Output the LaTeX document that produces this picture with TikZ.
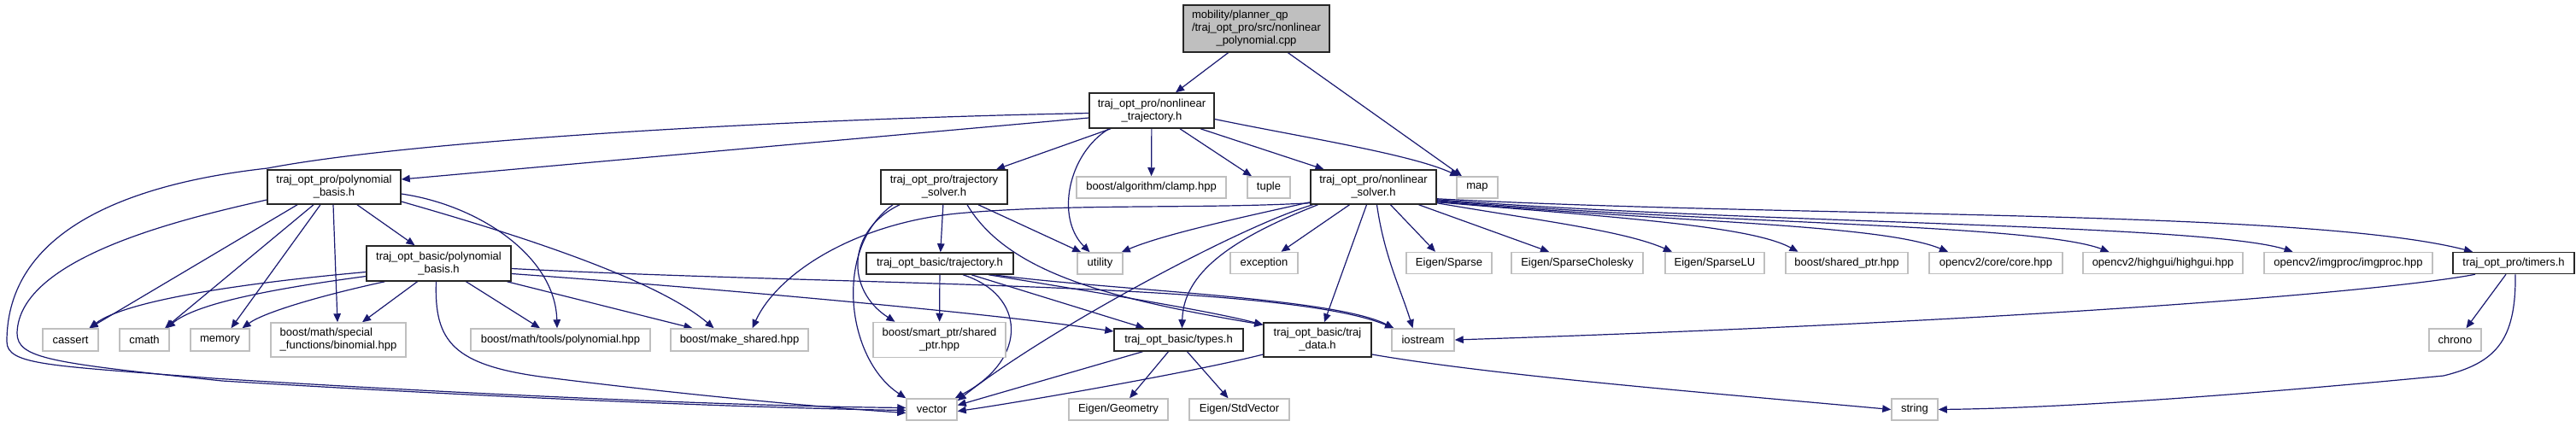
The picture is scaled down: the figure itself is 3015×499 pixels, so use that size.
\documentclass[tikz,border=0pt]{standalone}
\usepackage{fontspec}
\setmainfont{Liberation Sans}
\usetikzlibrary{arrows.meta}
\definecolor{edgecol}{HTML}{191970}
\definecolor{gborder}{HTML}{BFBFBF}
\definecolor{rootfill}{HTML}{BFBFBF}
\pgfdeclarelayer{bg}
\pgfsetlayers{bg,main}
\newlength\rootw
\begin{document}
\settowidth{\rootw}{\fontsize{13}{15}\selectfont /traj\_opt\_pro/src/nonlinear}%
\begin{tikzpicture}[x=1pt,y=-1pt,
  nd/.style={draw, line width=1.5pt, fill=white, inner sep=1pt, align=center, font=\fontsize{13}{15}\selectfont, text=black},
  lbox/.style={nd, draw=black!85},
  gbox/.style={nd, draw=gborder},
  rootbox/.style={nd, draw=black!85, fill=rootfill},
  sz/.style 2 args={minimum width=#1pt, minimum height=#2pt},
  e/.style={draw=edgecol, line width=1.2pt, -{Triangle[length=10pt,width=8.5pt]}}
]
\useasboundingbox (0,0) rectangle (3015,499);
% row 1-2
\node[rootbox, sz={171}{55}, align=left] (root) at (1470.5,33.5) {mobility/planner\_qp\\/traj\_opt\_pro/src/nonlinear\\\makebox[\rootw][c]{\_polynomial.cpp}};
\node[lbox, sz={146}{41}] (ntraj) at (1348,129.5) {traj\_opt\_pro/nonlinear\\\_trajectory.h};
% row 3
\node[lbox, sz={156}{40}] (ppoly) at (391,219) {traj\_opt\_pro/polynomial\\\_basis.h};
\node[lbox, sz={148}{40}] (psolver) at (1105,219) {traj\_opt\_pro/trajectory\\\_solver.h};
\node[gbox, sz={175}{25}] (clamp) at (1347.5,219.5) {boost/algorithm/clamp.hpp};
\node[gbox, sz={50}{25}] (tuple) at (1485,219.5) {tuple};
\node[lbox, sz={147}{40}] (nsolver) at (1607.5,219) {traj\_opt\_pro/nonlinear\\\_solver.h};
\node[gbox, sz={48}{25}] (map) at (1729,219.5) {map};
% row 4
\node[lbox, sz={169}{41}] (bpoly) at (513.5,308.5) {traj\_opt\_basic/polynomial\\\_basis.h};
\node[lbox, sz={172}{25}] (btraj) at (1100,308.5) {traj\_opt\_basic/trajectory.h};
\node[gbox, sz={53}{25}] (utility) at (1287.5,308.5) {utility};
\node[gbox, sz={79}{25}] (exception) at (1479.5,308) {exception};
\node[gbox, sz={100}{25}] (esparse) at (1696,308) {Eigen/Sparse};
\node[gbox, sz={154}{25}] (echol) at (1846,308) {Eigen/SparseCholesky};
\node[gbox, sz={116}{25}] (elu) at (2007,308) {Eigen/SparseLU};
\node[gbox, sz={143}{25}] (bshared) at (2161.5,308) {boost/shared\_ptr.hpp};
\node[gbox, sz={156}{25}] (core) at (2336,308) {opencv2/core/core.hpp};
\node[gbox, sz={187}{25}] (highgui) at (2531.5,308) {opencv2/highgui/highgui.hpp};
\node[gbox, sz={197}{25}] (imgproc) at (2748.5,308) {opencv2/imgproc/imgproc.hpp};
\node[lbox, sz={142}{25}] (timers) at (2942,308) {traj\_opt\_pro/timers.h};
% row 5
\node[gbox, sz={65}{26}] (cassert) at (82.5,398) {cassert};
\node[gbox, sz={58}{26}] (cmath) at (169,398) {cmath};
\node[gbox, sz={69}{26}] (memory) at (257.5,398) {memory};
\node[gbox, sz={158}{40}, align=left] (binomial) at (396,398) {boost/math/special\\\_functions/binomial.hpp};
\node[gbox, sz={210}{26}] (polyhpp) at (656,398) {boost/math/tools/polynomial.hpp};
\node[gbox, sz={161}{26}] (makeshared) at (865.5,398) {boost/make\_shared.hpp};
\node[gbox, sz={155}{41}] (sptr) at (1099.5,398) {boost/smart\_ptr/shared\\\_ptr.hpp};
\node[lbox, sz={151}{26}] (types) at (1379.5,398) {traj\_opt\_basic/types.h};
\node[lbox, sz={126}{40}] (tdata) at (1542,398) {traj\_opt\_basic/traj\\\_data.h};
\node[gbox, sz={73}{26}] (iostream) at (1665.5,398) {iostream};
\node[gbox, sz={61}{26}] (chrono) at (2873.5,398) {chrono};
% row 6
\node[gbox, sz={59}{25}] (vector) at (1090.5,479.5) {vector};
\node[gbox, sz={116}{25}] (egeom) at (1309,479.5) {Eigen/Geometry};
\node[gbox, sz={117}{25}] (estd) at (1450.5,479.5) {Eigen/StdVector};
\node[gbox, sz={54}{25}] (string) at (2241,479.5) {string};

\begin{pgfonlayer}{bg}
% root
\draw[e] ([xshift=-33pt]root.south) -- ([xshift=28pt]ntraj.north);
\draw[e] ([xshift=37pt]root.south) -- ([xshift=-18pt]map.north);
% nonlinear_trajectory
\draw[e] ([yshift=-8.5pt]ntraj.west) -- ([yshift=9pt]ppoly.east);
\draw[e] ([yshift=-3pt]ntraj.west) .. controls (900,140) and (480,165) .. (313,197)
  .. controls (150,215) and (8,270) .. (8,400)
  .. controls (8,428) and (60,428) .. (250,443)
  .. controls (600,465) and (900,476) .. ([yshift=2pt]vector.west);
\draw[e] ([xshift=-48pt]ntraj.south) -- ([xshift=61pt]psolver.north);
\draw[e] ([xshift=-50pt]ntraj.south) .. controls (1250,180) and (1235,255) .. ([xshift=-12pt]utility.north);
\draw[e] (ntraj) -- (clamp);
\draw[e] ([xshift=33pt]ntraj.south) -- ([xshift=-20pt]tuple.north);
\draw[e] ([xshift=57pt]ntraj.south) -- ([xshift=-58pt]nsolver.north);
\draw[e] ([yshift=-10pt]ntraj.east) .. controls (1520,160) and (1650,180) .. ([xshift=3pt]map.north west);
% pro/polynomial_basis
\draw[e] ([yshift=-15pt]ppoly.west) .. controls (220,255) and (22,300) .. (20,390)
  .. controls (20,420) and (60,425) .. (260,446)
  .. controls (600,467) and (900,478) .. ([yshift=-1pt]vector.west);
\draw[e] ([xshift=-43pt]ppoly.south) -- ([xshift=22pt]cassert.north);
\draw[e] ([xshift=-24pt]ppoly.south) -- ([xshift=24pt]cmath.north);
\draw[e] ([xshift=-16pt]ppoly.south) -- ([xshift=13pt]memory.north);
\draw[e] ([xshift=-1pt]ppoly.south) -- ([xshift=-1pt]binomial.north);
\draw[e] ([xshift=27pt]ppoly.south) -- ([xshift=-28pt]bpoly.north);
\draw[e] ([yshift=-8pt]ppoly.east) .. controls (560,240) and (650,300) .. ([xshift=-4pt]polyhpp.north);
\draw[e] ([yshift=-17pt]ppoly.east) .. controls (560,262) and (760,320) .. ([xshift=-30pt]makeshared.north);
% basic/polynomial_basis
\draw[e] ([yshift=-10pt]bpoly.west) .. controls (300,330) and (150,350) .. ([xshift=22pt]cassert.north);
\draw[e] ([yshift=-15pt]bpoly.west) .. controls (320,338) and (230,355) .. ([xshift=26pt]cmath.north);
\draw[e] ([xshift=-63pt]bpoly.south) .. controls (380,345) and (310,365) .. ([xshift=26pt]memory.north);
\draw[e] ([xshift=-25pt]bpoly.south) -- ([xshift=28pt]binomial.north);
\draw[e] ([xshift=32pt]bpoly.south) -- ([xshift=-24pt]polyhpp.north);
\draw[e] ([xshift=80pt]bpoly.south) -- ([xshift=-55pt]makeshared.north);
\draw[e] ([xshift=-3pt]bpoly.south) .. controls (508,400) and (530,428) .. (640,442)
  .. controls (800,462) and (950,476) .. ([yshift=-4pt]vector.west);
\draw[e] ([yshift=-6pt]bpoly.east) .. controls (1000,335) and (1500,330) .. ([xshift=3pt]iostream.north west);
\draw[e] ([yshift=-12pt]bpoly.east) .. controls (800,335) and (1150,365) .. ([yshift=10pt]types.west);
% trajectory_solver
\draw[e] (psolver) -- (btraj);
\draw[e] ([xshift=40pt]psolver.south) -- ([xshift=5pt]utility.north west);
\draw[e] ([xshift=-52pt]psolver.south) .. controls (990,270) and (990,340) .. ([xshift=-52pt]sptr.north);
\draw[e] ([xshift=-60pt]psolver.south) .. controls (975,290) and (990,420) .. (vector.north west);
\draw[e] ([xshift=27pt]psolver.south) .. controls (1180,320) and (1300,350) .. ([yshift=-3pt]tdata.north west);
% basic/trajectory
\draw[e] (btraj) -- (sptr);
\draw[e] ([xshift=27pt]btraj.south) .. controls (1200,345) and (1205,420) .. ([xshift=-3pt]vector.north east);
\draw[e] ([xshift=37pt]btraj.south) -- ([xshift=-40pt]types.north);
\draw[e] ([xshift=57pt]btraj.south) .. controls (1300,345) and (1420,365) .. ([yshift=-3pt]tdata.north west);
\draw[e] ([xshift=63pt]btraj.south) .. controls (1300,340) and (1560,348) .. ([xshift=3pt]iostream.north west);
% nonlinear_solver
\draw[e] ([yshift=3pt]nsolver.south west) .. controls (1450,255) and (1360,275) .. ([xshift=-2pt]utility.north east);
\draw[e] ([yshift=2pt]nsolver.south west) .. controls (1400,245) and (1250,238) .. (1120,250)
  .. controls (1000,262) and (910,320) .. ([xshift=15pt]makeshared.north);
\draw[e] ([xshift=-71pt]nsolver.south) .. controls (1450,265) and (1220,390) .. ([yshift=-3pt]vector.north east);
\draw[e] ([xshift=-65pt]nsolver.south) .. controls (1440,280) and (1385,320) .. ([xshift=4pt]types.north);
\draw[e] ([xshift=-28pt]nsolver.south) -- ([xshift=20pt]exception.north);
\draw[e] ([xshift=-8pt]nsolver.south) -- ([xshift=8pt]tdata.north);
\draw[e] ([xshift=4pt]nsolver.south) .. controls (1620,300) and (1640,340) .. ([xshift=-12pt]iostream.north);
\draw[e] ([xshift=20pt]nsolver.south) -- ([xshift=-16pt]esparse.north);
\draw[e] ([xshift=53pt]nsolver.south) -- ([xshift=-33pt]echol.north);
\draw[e] ([yshift=2pt]nsolver.south east) .. controls (1800,258) and (1900,270) .. ([xshift=-50pt]elu.north);
\draw[e] ([yshift=3pt]nsolver.south east) .. controls (1900,255) and (2050,265) .. ([xshift=-57pt]bshared.north);
\draw[e] ([yshift=4pt]nsolver.south east) .. controls (1950,260) and (2200,262) .. ([xshift=-56pt]core.north);
\draw[e] ([yshift=5pt]nsolver.south east) .. controls (2000,262) and (2380,262) .. ([xshift=-63pt]highgui.north);
\draw[e] ([yshift=6pt]nsolver.south east) .. controls (2050,262) and (2580,262) .. ([xshift=-65pt]imgproc.north);
\draw[e] ([yshift=7pt]nsolver.south east) .. controls (2100,255) and (2700,245) .. ([xshift=-48pt]timers.north);
% types
\draw[e] ([xshift=-42pt]types.south) -- ([yshift=5pt]vector.east);
\draw[e] ([xshift=-12pt]types.south) -- ([xshift=13pt]egeom.north);
\draw[e] ([xshift=10pt]types.south) -- ([xshift=-13pt]estd.north);
% traj_data
\draw[e] ([yshift=-17pt]tdata.west) .. controls (1400,435) and (1200,470) .. ([yshift=-2pt]vector.east);
\draw[e] ([yshift=-17pt]tdata.east) .. controls (1750,440) and (2000,460) .. (string.west);
% timers
\draw[e] ([xshift=-45pt]timers.south) .. controls (2800,340) and (2400,375) .. (iostream.east);
\draw[e] ([xshift=-9pt]timers.south) -- ([xshift=13pt]chrono.north);
\draw[e] ([xshift=2pt]timers.south) .. controls (2945,400) and (2920,425) .. (2860,440)
  .. controls (2600,465) and (2400,478) .. (string.east);
\end{pgfonlayer}
\end{tikzpicture}
\end{document}
